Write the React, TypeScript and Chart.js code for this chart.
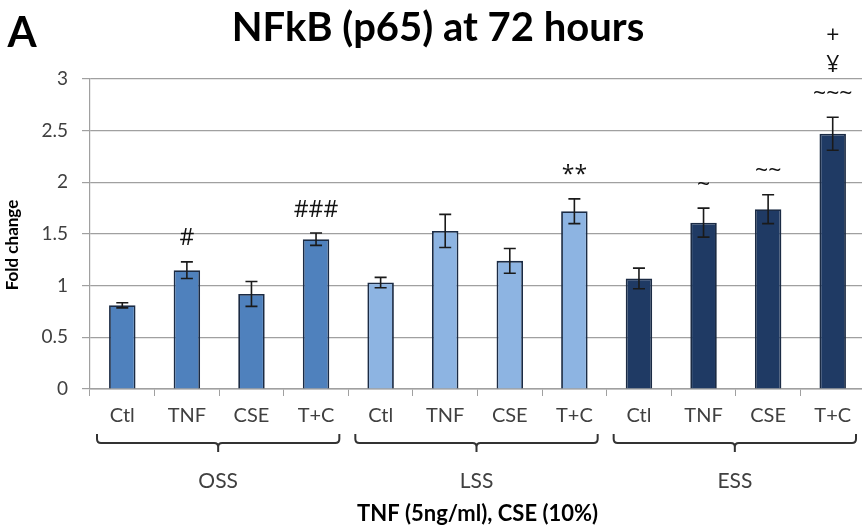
import React, { useEffect, useRef } from "react";
import { Chart, registerables } from "chart.js";

Chart.register(...registerables);

const categories = ["Ctl", "TNF", "CSE", "T+C", "Ctl", "TNF", "CSE", "T+C", "Ctl", "TNF", "CSE", "T+C"];
const groups = ["OSS", "LSS", "ESS"];
const foldChange = [0.81, 1.15, 0.92, 1.45, 1.03, 1.53, 1.24, 1.72, 1.07, 1.61, 1.74, 2.47];
const errors = [0.025, 0.08, 0.12, 0.06, 0.05, 0.16, 0.12, 0.12, 0.1, 0.14, 0.14, 0.16];
const significance: string[][] = [[], ["#"], [], ["###"], [], [], [], ["**"], [], ["~"], ["~~"], ["+", "¥", "~~~"]];
const yTicks = [0, 0.5, 1, 1.5, 2, 2.5, 3];
const groupColors = ["#4F81BD", "#8DB4E2", "#1F3A64"];
const panelLetter = "A";
const chartTitle = "NFkB (p65) at 72 hours";
const yTitle = "Fold change";
const xTitle = "TNF (5ng/ml), CSE (10%)";

const FONT = "Lato, 'Open Sans', sans-serif";
const MARK_FONT = "'Open Sans', sans-serif";

const errorBarPlugin = {
  id: "errorBars",
  afterDatasetsDraw(chart: any) {
    const { ctx } = chart;
    const y = chart.scales.y;
    const meta = chart.getDatasetMeta(0);
    ctx.save();
    meta.data.forEach((bar: any, i: number) => {
      const x = bar.x;
      const top = y.getPixelForValue(foldChange[i] + errors[i]);
      const bot = y.getPixelForValue(foldChange[i] - errors[i]);
      ctx.strokeStyle = "#1a1a1a";
      ctx.lineWidth = 1.6;
      ctx.beginPath();
      ctx.moveTo(x, top);
      ctx.lineTo(x, bot);
      ctx.moveTo(x - 6, top);
      ctx.lineTo(x + 6, top);
      ctx.moveTo(x - 6, bot);
      ctx.lineTo(x + 6, bot);
      ctx.stroke();
      const lines = significance[i];
      ctx.fillStyle = "#111";
      ctx.font = `23px ${MARK_FONT}`;
      ctx.textAlign = "center";
      ctx.textBaseline = "middle";
      for (let k = lines.length - 1, j = 0; k >= 0; k--, j++) {
        ctx.fillText(lines[k], x, top - 23 - j * 29);
      }
    });
    ctx.restore();
  },
};

const decorPlugin = {
  id: "decor",
  afterDraw(chart: any) {
    const { ctx, chartArea } = chart;
    const xs = chart.scales.x;
    ctx.save();
    ctx.fillStyle = "#000";
    ctx.textAlign = "center";
    ctx.textBaseline = "middle";
    ctx.font = `bold 42px ${FONT}`;
    ctx.fillText(panelLetter, 22, 33);
    ctx.font = `bold 40px ${FONT}`;
    ctx.fillText(chartTitle, 438, 28);

    ctx.save();
    ctx.translate(13, 245);
    ctx.rotate(-Math.PI / 2);
    ctx.font = `bold 17px ${FONT}`;
    ctx.fillText(yTitle, 0, 0);
    ctx.restore();

    const catW = (xs.right - xs.left) / categories.length;
    const b = chartArea.bottom;
    const yTop = b + 45;
    const yMid = b + 54;
    const yNotch = b + 63;
    ctx.strokeStyle = "#333";
    ctx.lineWidth = 2;
    groups.forEach((g, gi) => {
      const left = xs.getPixelForValue(gi * 4) - catW / 2 + 7;
      const right = xs.getPixelForValue(gi * 4 + 3) + catW / 2 - 9;
      const c = (left + right) / 2;
      const r = 4;
      ctx.beginPath();
      ctx.moveTo(left, yTop);
      ctx.lineTo(left, yMid - r);
      ctx.quadraticCurveTo(left, yMid, left + r, yMid);
      ctx.lineTo(c - r, yMid);
      ctx.quadraticCurveTo(c, yMid, c, yMid + r);
      ctx.lineTo(c, yNotch);
      ctx.moveTo(c, yMid + r);
      ctx.quadraticCurveTo(c, yMid, c + r, yMid);
      ctx.lineTo(right - r, yMid);
      ctx.quadraticCurveTo(right, yMid, right, yMid - r);
      ctx.lineTo(right, yTop);
      ctx.stroke();
      ctx.fillStyle = "#404040";
      ctx.font = `21px ${FONT}`;
      ctx.fillText(g, c, b + 92);
    });

    ctx.fillStyle = "#000";
    ctx.font = `bold 22px ${FONT}`;
    ctx.fillText(xTitle, (chartArea.left + chartArea.right) / 2, b + 125);
    ctx.restore();
  },
};

export default function App() {
  const ref = useRef<HTMLCanvasElement | null>(null);
  useEffect(() => {
    if (!ref.current) return;
    const chart = new Chart(ref.current, {
      type: "bar",
      data: {
        labels: categories,
        datasets: [
          {
            data: foldChange,
            backgroundColor: foldChange.map((_, i) => groupColors[Math.floor(i / 4)]),
            borderColor: "#1B2B44",
            borderWidth: 1.8,
            barPercentage: 0.41,
            categoryPercentage: 1,
          },
        ],
      },
      options: {
        responsive: false,
        animation: false,
        devicePixelRatio: 1,
        layout: { padding: { top: 79, left: 0, right: 3, bottom: 0 } },
        plugins: { legend: { display: false }, tooltip: { enabled: false }, title: { display: false } },
        scales: {
          x: {
            grid: { offset: true, drawOnChartArea: false, drawTicks: true, tickLength: 7, color: "#a0a0a0" },
            border: { color: "#a0a0a0", width: 1.5 },
            ticks: {
              autoSkip: false,
              maxRotation: 0,
              minRotation: 0,
              padding: 8,
              color: "#404040",
              font: { family: FONT, size: 20 },
            },
            afterFit: (s: any) => {
              s.height = 143;
            },
          },
          y: {
            min: 0,
            max: 3,
            afterBuildTicks: (s: any) => {
              s.ticks = yTicks.map((v) => ({ value: v }));
            },
            grid: { color: "#a0a0a0", tickLength: 8, lineWidth: 1.2 },
            border: { color: "#a0a0a0", width: 1.2 },
            ticks: {
              padding: 14,
              color: "#404040",
              font: { family: FONT, size: 19 },
              callback: (v: any) => String(v),
            },
            afterFit: (s: any) => {
              s.width = 90;
            },
          },
        },
      },
      plugins: [errorBarPlugin, decorPlugin],
    });
    return () => chart.destroy();
  }, []);
  return (
    <div style={{ position: "absolute", left: 0, top: 0, width: 862, height: 532, overflow: "hidden", background: "#fff" }}>
      <canvas ref={ref} width={868} height={532} style={{ display: "block" }} />
    </div>
  );
}
